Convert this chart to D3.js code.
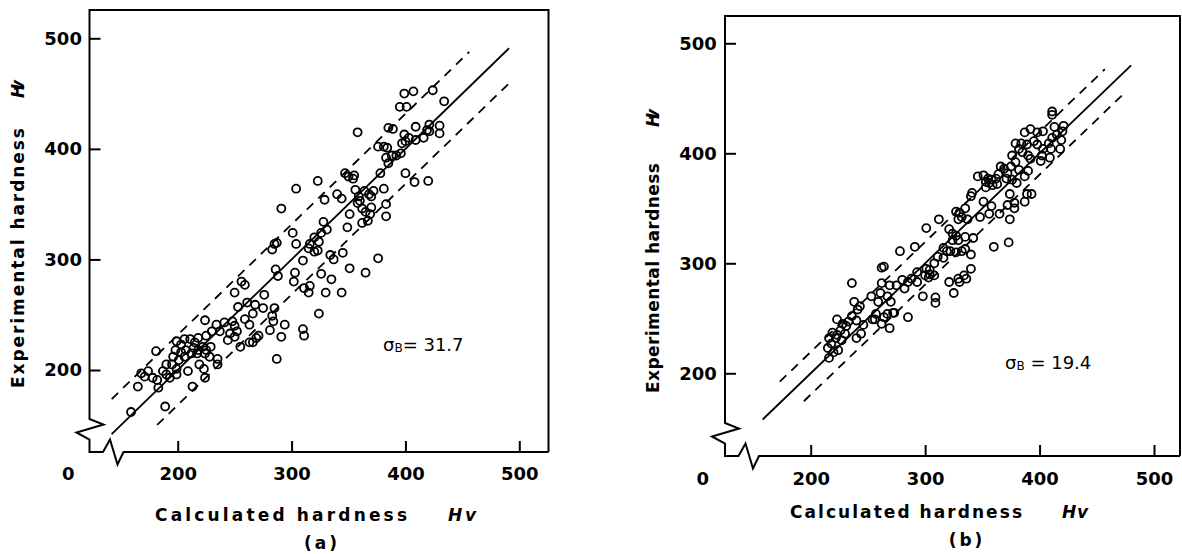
<!DOCTYPE html>
<html><head><meta charset="utf-8">
<script src="https://cdn.jsdelivr.net/npm/d3@7"></script>
<style>body{margin:0;background:#fff}svg{display:block}</style>
</head><body>
<svg id="chart" width="1182" height="554"></svg>
<script>
// ---------- data ----------
const tickValues = [200, 300, 400, 500];
const zeroLabel = "0";
const xTitle = "Calculated hardness";
const yTitle = "Experimental hardness";
const unitLabel = "Hv";
const panelLabels = ["(a)", "(b)"];
const sigmaValues = [31.7, 19.4];
// extents (calculated hardness) of the fitted y = x line and the ±σ lines
const solidSpan = [[142, 491], [158, 480]];
const upperSpan = [[142, 456], [173, 457]];
const lowerSpan = [[182, 491], [194, 476]];

// [calculated, experimental]
const pointsA = [
[407,452],[399,450],[424,453],[395,438],[401,438],[434,443],[358,415],[385,419],[389,418],[409,420],
[421,422],[430,421],[399,413],[403,410],[409,408],[416,410],[421,416],[430,414],[419,417],[397,405],
[400,407],[376,402],[381,402],[384,401],[396,396],[392,394],[388,394],[383,392],[385,387],[378,378],
[400,378],[408,370],[420,371],[347,378],[350,375],[355,376],[354,373],[381,364],[372,362],[368,359],
[364,362],[370,357],[340,359],[344,355],[356,363],[359,357],[360,353],[358,351],[362,346],[370,347],
[369,341],[365,343],[367,335],[362,333],[383,350],[383,339],[351,341],[349,329],[323,371],[304,364],
[329,354],[291,346],[301,324],[304,314],[310,299],[320,320],[316,314],[315,310],[320,307],[324,316],
[326,324],[328,334],[331,327],[323,308],[285,314],[287,315],[283,309],[345,306],[334,304],[337,300],
[286,291],[288,285],[303,288],[302,280],[316,276],[315,270],[311,274],[326,287],[335,282],[330,270],
[351,292],[344,270],[365,288],[376,301],[250,270],[256,280],[259,277],[276,268],[261,261],[268,259],
[275,256],[266,251],[253,257],[285,256],[283,249],[284,244],[294,241],[291,230],[281,236],[324,251],
[310,237],[311,231],[287,210],[241,243],[248,244],[250,240],[252,235],[246,233],[250,230],[244,227],
[255,221],[259,246],[263,241],[234,241],[230,235],[237,235],[224,245],[263,225],[266,225],[269,229],
[271,231],[218,229],[225,231],[229,221],[222,221],[225,218],[199,226],[203,223],[206,228],[211,228],
[215,225],[198,218],[203,216],[207,218],[214,220],[218,218],[196,212],[201,209],[206,212],[212,215],
[217,215],[224,215],[228,212],[190,205],[195,205],[199,201],[209,199],[219,205],[223,201],[235,210],
[235,205],[187,199],[190,196],[193,193],[199,196],[181,217],[168,197],[171,194],[174,199],[178,193],
[182,191],[165,185],[183,184],[213,185],[224,193],[189,167],[159,162]
];
const pointsB = [
[411,438],[411,435],[421,425],[420,420],[419,412],[418,404],[413,424],[415,417],[411,414],[408,409],
[410,404],[409,396],[392,422],[398,419],[403,420],[387,419],[395,411],[398,408],[403,404],[402,398],
[401,393],[379,409],[384,409],[389,408],[382,404],[385,401],[390,398],[392,395],[376,398],[379,392],
[375,388],[382,385],[390,384],[387,379],[393,363],[389,363],[387,356],[366,388],[369,386],[372,382],
[364,381],[362,377],[371,377],[376,376],[380,373],[355,377],[356,373],[359,371],[363,372],[353,369],
[358,376],[346,379],[351,380],[353,374],[341,364],[340,361],[351,356],[358,352],[356,345],[348,342],
[365,345],[378,350],[374,340],[378,355],[374,363],[372,353],[360,315],[373,319],[327,347],[330,346],
[332,342],[335,350],[337,340],[329,340],[312,340],[301,332],[321,331],[324,327],[327,325],[329,321],
[335,324],[342,323],[324,321],[316,314],[319,311],[322,311],[327,310],[332,311],[335,313],[340,308],
[311,306],[316,305],[308,300],[304,294],[340,295],[336,286],[334,289],[329,286],[330,283],[321,283],
[325,273],[291,315],[278,311],[262,296],[264,297],[301,295],[304,290],[303,287],[300,289],[308,289],
[293,292],[288,286],[285,283],[280,285],[282,277],[293,283],[298,270],[309,269],[309,264],[275,280],
[269,280],[262,282],[261,273],[259,265],[267,270],[270,265],[272,255],[267,254],[264,251],[262,245],
[269,241],[273,255],[257,254],[256,249],[253,270],[254,249],[236,282],[238,265],[241,258],[243,261],
[236,252],[240,248],[233,247],[246,244],[244,236],[240,232],[285,251],[223,249],[228,245],[231,243],
[226,239],[230,236],[223,235],[222,232],[227,230],[219,237],[216,232],[218,227],[215,223],[220,219],
[216,214],[224,221]
];

// ---------- layout ----------
const FONT = "'DejaVu Sans', sans-serif";
const panels = [
  { points: pointsA, sigma: sigmaValues[0], sigmaText: "= 31.7", label: panelLabels[0], i: 0,
    frame: {l: 89.5, t: 10, r: 548.5, b: 452},
    xr: [177.7, 519.3], yr: [370, 38.3],
    xpad: 15, ypad: 7.6, zero: [68.3, 473.3],
    sigmaPos: [383, 344],
    xt: {x0: 155, len: 252, y: 515, hx: 448, hlen: 28},
    yt: {x: 18.3, y0: 388, len: 260, hy0: 98, hlen: 18},
    lab: [322, 543] },
  { points: pointsB, sigma: sigmaValues[1], sigmaText: " = 19.4", label: panelLabels[1], i: 1,
    frame: {l: 725, t: 16, r: 1180, b: 456},
    xr: [810.7, 1154], yr: [373.3, 43.3],
    xpad: 16.5, ypad: 8.3, zero: [702.7, 478.3],
    sigmaPos: [1005, 362],
    xt: {x0: 790, len: 232, y: 511.7, hx: 1062, hlen: 26},
    yt: {x: 653.3, y0: 393, len: 230, hy0: 127, hlen: 18},
    lab: [967, 540] }
];

const svg = d3.select("#chart");

panels.forEach(cfg => {
  const g = svg.append("g");
  const x = d3.scaleLinear().domain([200, 500]).range(cfg.xr);
  const y = d3.scaleLinear().domain([200, 500]).range(cfg.yr);
  const {l, t, r, b} = cfg.frame;

  // frame with axis-break zigzags
  const framePts = [[r, b], [r, t], [l, t], [l, b - 33], [l + 14, b - 27.5], [l - 13, b - 19.5],
    [l, b - 12.5], [l, b], [l + 13.5, b], [l + 20.5, b - 12.5], [l + 28, b + 12.5], [l + 34, b], [r, b]];
  g.append("path").attr("d", d3.line()(framePts))
    .attr("fill", "none").attr("stroke", "#000").attr("stroke-width", 2).attr("stroke-linejoin", "miter");

  // axes
  const ax = g.append("g").attr("transform", `translate(0,${b})`)
    .call(d3.axisBottom(x).tickValues(tickValues).tickSize(-11).tickPadding(cfg.xpad).tickFormat(d3.format("d")));
  const ay = g.append("g").attr("transform", `translate(${l},0)`)
    .call(d3.axisLeft(y).tickValues(tickValues).tickSize(-11).tickPadding(cfg.ypad).tickFormat(d3.format("d")));
  [ax, ay].forEach(a => {
    a.select(".domain").remove();
    a.selectAll(".tick line").attr("stroke", "#000").attr("stroke-width", 2);
    a.selectAll(".tick text").attr("fill", "#000").attr("font-family", FONT)
      .attr("font-size", 18).attr("font-weight", "bold");
  });

  g.append("text").attr("x", cfg.zero[0]).attr("y", cfg.zero[1]).attr("text-anchor", "middle")
    .attr("dominant-baseline", "central").attr("font-family", FONT).attr("font-size", 18)
    .attr("font-weight", "bold").text(zeroLabel);

  // fitted line and ±σ band
  const line = d3.line().x(d => x(d[0])).y(d => y(d[1]));
  const solid = solidSpan[cfg.i], up = upperSpan[cfg.i], lo = lowerSpan[cfg.i];
  g.append("path").attr("d", line([[solid[0], solid[0]], [solid[1], solid[1]]]))
    .attr("stroke", "#000").attr("stroke-width", 1.8).attr("fill", "none");
  g.append("path").attr("d", line([[up[0], up[0] + cfg.sigma], [up[1], up[1] + cfg.sigma]]))
    .attr("stroke", "#000").attr("stroke-width", 1.8).attr("stroke-dasharray", "9,7").attr("fill", "none");
  g.append("path").attr("d", line([[lo[0], lo[0] - cfg.sigma], [lo[1], lo[1] - cfg.sigma]]))
    .attr("stroke", "#000").attr("stroke-width", 1.8).attr("stroke-dasharray", "9,7").attr("fill", "none");

  // points
  g.append("g").selectAll("circle").data(cfg.points).join("circle")
    .attr("cx", d => x(d[0])).attr("cy", d => y(d[1])).attr("r", 4)
    .attr("fill", "none").attr("stroke", "#000").attr("stroke-width", 1.8);

  // sigma annotation
  const st = g.append("text").attr("x", cfg.sigmaPos[0]).attr("y", cfg.sigmaPos[1])
    .attr("dominant-baseline", "central").attr("font-family", FONT).attr("font-size", 18);
  st.append("tspan").text("σ");
  st.append("tspan").attr("font-size", 12).attr("dy", 4).text("B");
  st.append("tspan").attr("dy", -4).text(cfg.sigmaText);

  // x title
  g.append("text").attr("x", cfg.xt.x0).attr("y", cfg.xt.y).attr("dominant-baseline", "central")
    .attr("font-family", FONT).attr("font-size", 17).attr("font-weight", "bold")
    .attr("textLength", cfg.xt.len).attr("lengthAdjust", "spacing").text(xTitle);
  g.append("text").attr("x", cfg.xt.hx).attr("y", cfg.xt.y).attr("dominant-baseline", "central")
    .attr("font-family", FONT).attr("font-size", 17).attr("font-weight", "bold").attr("font-style", "italic")
    .attr("textLength", cfg.xt.hlen).attr("lengthAdjust", "spacing").text(unitLabel);

  // y title
  g.append("text").attr("transform", `translate(${cfg.yt.x},${cfg.yt.y0}) rotate(-90)`)
    .attr("dominant-baseline", "central").attr("font-family", FONT).attr("font-size", 17).attr("font-weight", "bold")
    .attr("textLength", cfg.yt.len).attr("lengthAdjust", "spacing").text(yTitle);
  g.append("text").attr("transform", `translate(${cfg.yt.x},${cfg.yt.hy0}) rotate(-90)`)
    .attr("dominant-baseline", "central").attr("font-family", FONT).attr("font-size", 17).attr("font-weight", "bold")
    .attr("font-style", "italic").attr("textLength", cfg.yt.hlen).attr("lengthAdjust", "spacing").text(unitLabel);

  // panel label
  g.append("text").attr("x", cfg.lab[0]).attr("y", cfg.lab[1]).attr("text-anchor", "middle")
    .attr("dominant-baseline", "central").attr("font-family", FONT).attr("font-size", 17).attr("font-weight", "bold")
    .attr("letter-spacing", 3).text(cfg.label);
});
</script>
</body></html>
